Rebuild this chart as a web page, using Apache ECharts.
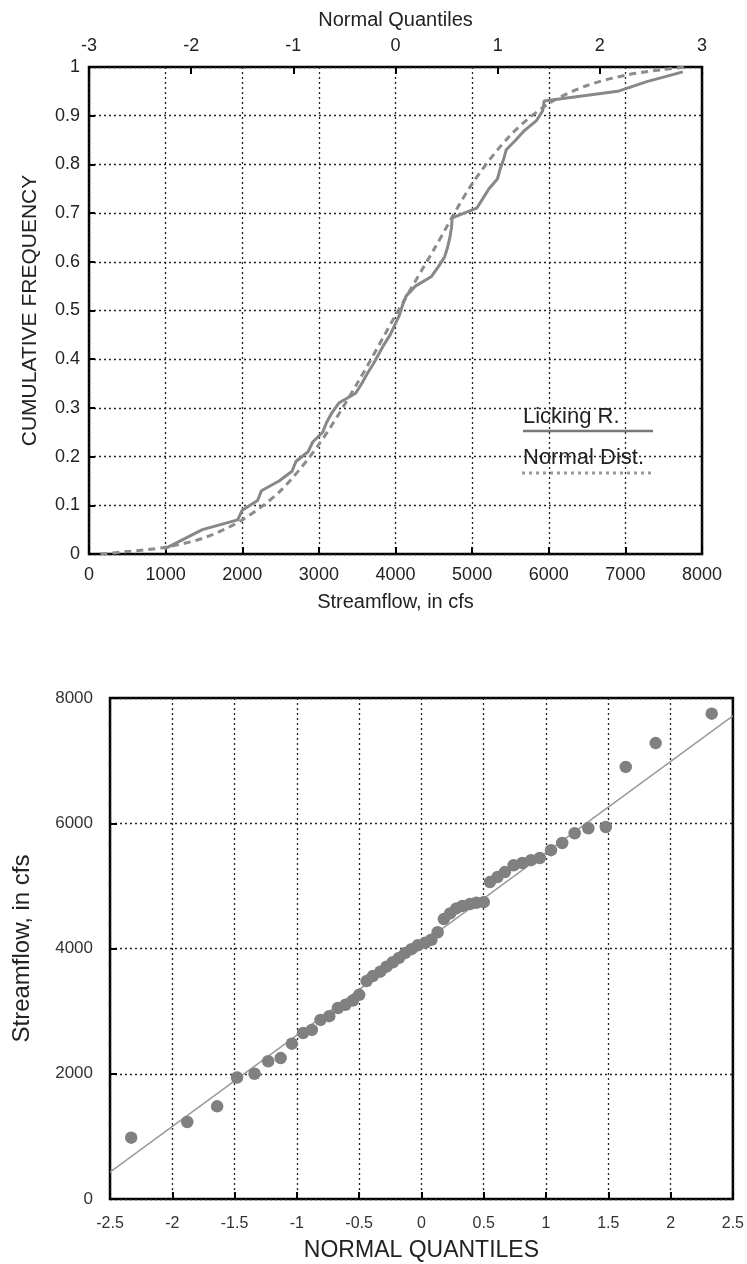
<!DOCTYPE html>
<html>
<head>
<meta charset="utf-8">
<script src="https://cdn.jsdelivr.net/npm/echarts@6/dist/echarts.min.js"></script>
<style>
html,body{margin:0;padding:0;background:#fff;}
#chart{width:747px;height:1264px;}
</style>
</head>
<body>
<div id="chart"></div>
<script>
// ---- Data ----
// Sorted annual streamflows, Licking R. (cfs)
const flowSorted = [980,1230,1480,1940,2000,2200,2250,2480,2650,2700,
  2860,2920,3050,3100,3170,3260,3480,3560,3630,3710,
  3780,3850,3930,3990,4050,4090,4140,4260,4470,4560,
  4640,4680,4710,4730,4740,5060,5140,5220,5330,5365,
  5410,5445,5570,5685,5840,5920,5940,6900,7280,7750];
// Cumulative frequency of each sorted value
const cumFreq = [0.01,0.03,0.05,0.07,0.09,0.11,0.13,0.15,0.17,0.19,
  0.21,0.23,0.25,0.27,0.29,0.31,0.33,0.35,0.37,0.39,
  0.41,0.43,0.45,0.47,0.49,0.51,0.53,0.55,0.57,0.59,
  0.61,0.63,0.65,0.67,0.69,0.71,0.73,0.75,0.77,0.79,
  0.81,0.83,0.85,0.87,0.89,0.91,0.93,0.95,0.97,0.99];
// Normal quantile of each sorted value
const normalQuantiles = [-2.33,-1.88,-1.64,-1.48,-1.34,-1.23,-1.13,-1.04,-0.95,-0.88,
  -0.81,-0.74,-0.67,-0.61,-0.55,-0.50,-0.44,-0.39,-0.33,-0.28,
  -0.23,-0.18,-0.13,-0.08,-0.03,0.03,0.08,0.13,0.18,0.23,
  0.28,0.33,0.39,0.44,0.50,0.55,0.61,0.67,0.74,0.81,
  0.88,0.95,1.04,1.13,1.23,1.34,1.48,1.64,1.88,2.33];
// Normal distribution curve (top panel, dashed)
const normalCurveFlow = [150,500,1000,1500,2000,2500,3000,3500,4000,4500,5000,5500,6000,6500,7000,7500,7800];
const normalCurveFreq = [0.0,0.005,0.014,0.033,0.07,0.13,0.225,0.35,0.49,0.625,0.76,0.86,0.925,0.962,0.983,0.995,1.0];
// Fitted straight line (bottom panel)
const fitQuantiles = [-2.5, 2.5];
const fitFlow = [430, 7715];

// ---- Build series data ----
const lickingData = flowSorted.map((v, i) => [v, cumFreq[i]]);
const normalData = normalCurveFlow.map((v, i) => [v, normalCurveFreq[i]]);
const qqData = flowSorted.map((v, i) => [normalQuantiles[i], v]);
const fitData = fitQuantiles.map((q, i) => [q, fitFlow[i]]);

const FONT = "'Liberation Sans', Arial, Helvetica, sans-serif";
const gridLine = {show: true, lineStyle: {color: '#222', width: 1.3, type: [2, 3]}};
const plain = v => String(Math.round(v * 1000) / 1000);
const noLine = {show: false, onZero: false};

const chart = echarts.init(document.getElementById('chart'), null, {renderer: 'canvas'});
chart.setOption({
  animation: false,
  backgroundColor: '#fff',
  textStyle: {fontFamily: FONT},
  grid: [
    {left: 89, top: 67, width: 613, height: 487, show: true, borderColor: '#000', borderWidth: 2.5, backgroundColor: 'transparent'},
    {left: 110, top: 698, width: 625, height: 501, show: true, borderColor: '#000', borderWidth: 2.5, backgroundColor: 'transparent'}
  ],
  xAxis: [
    {
      gridIndex: 0, type: 'value', min: 0, max: 8000, interval: 1000, position: 'bottom',
      name: 'Streamflow, in cfs', nameLocation: 'middle', nameGap: 38,
      nameTextStyle: {fontSize: 20, color: '#222', fontFamily: FONT},
      axisLine: noLine,
      axisTick: {show: true, inside: true, length: 7, lineStyle: {color: '#000', width: 2}},
      axisLabel: {fontSize: 18, color: '#222', margin: 12, fontFamily: FONT, formatter: plain},
      splitLine: gridLine
    },
    {
      gridIndex: 0, type: 'value', min: -3, max: 3, interval: 1, position: 'top',
      name: 'Normal Quantiles', nameLocation: 'middle', nameGap: 37,
      nameTextStyle: {fontSize: 20, color: '#222', fontFamily: FONT},
      axisLine: noLine,
      axisTick: {show: true, inside: true, length: 7, lineStyle: {color: '#000', width: 2}},
      axisLabel: {fontSize: 18, color: '#222', margin: 12, fontFamily: FONT, formatter: plain},
      splitLine: {show: false}
    },
    {
      gridIndex: 1, type: 'value', min: -2.5, max: 2.5, interval: 0.5, position: 'bottom',
      name: 'NORMAL QUANTILES', nameLocation: 'middle', nameGap: 40,
      nameTextStyle: {fontSize: 23, color: '#222', fontFamily: FONT},
      axisLine: noLine,
      axisTick: {show: true, inside: true, length: 7, lineStyle: {color: '#000', width: 2}},
      axisLabel: {fontSize: 16, color: '#333', margin: 17, fontFamily: FONT, formatter: plain},
      splitLine: gridLine
    }
  ],
  yAxis: [
    {
      gridIndex: 0, type: 'value', min: 0, max: 1, interval: 0.1,
      name: 'CUMULATIVE FREQUENCY', nameLocation: 'middle', nameGap: 48, nameRotate: 90,
      nameTextStyle: {fontSize: 21, color: '#222', fontFamily: FONT},
      axisLine: noLine,
      axisTick: {show: true, inside: true, length: 6, lineStyle: {color: '#000', width: 2}},
      axisLabel: {fontSize: 18, color: '#222', margin: 9, fontFamily: FONT, formatter: plain},
      splitLine: gridLine
    },
    {
      gridIndex: 1, type: 'value', min: 0, max: 8000, interval: 2000,
      name: 'Streamflow, in cfs', nameLocation: 'middle', nameGap: 76, nameRotate: 90,
      nameTextStyle: {fontSize: 24, color: '#222', fontFamily: FONT},
      axisLine: noLine,
      axisTick: {show: true, inside: true, length: 7, lineStyle: {color: '#000', width: 2}},
      axisLabel: {fontSize: 17, color: '#333', margin: 17, fontFamily: FONT, formatter: plain},
      splitLine: gridLine
    }
  ],
  series: [
    {
      name: 'Normal Dist.', type: 'line', xAxisIndex: 0, yAxisIndex: 0,
      data: normalData, smooth: 0.3, symbol: 'none',
      lineStyle: {color: '#8c8c8c', width: 3, type: [7, 5]}, z: 3
    },
    {
      name: 'Licking R.', type: 'line', xAxisIndex: 0, yAxisIndex: 0,
      data: lickingData, symbol: 'none',
      lineStyle: {color: '#888', width: 3}, z: 4
    },
    {
      name: 'Fit', type: 'line', xAxisIndex: 2, yAxisIndex: 1,
      data: fitData, symbol: 'none',
      lineStyle: {color: '#9a9a9a', width: 1.5}, z: 3
    },
    {
      name: 'Observed', type: 'scatter', xAxisIndex: 2, yAxisIndex: 1,
      data: qqData, symbol: 'circle', symbolSize: 12.5,
      itemStyle: {color: '#808080', opacity: 1}, z: 4
    }
  ],
  graphic: [
    {type: 'text', left: 523, top: 406, style: {text: 'Licking R.', font: "22px " + FONT, fill: '#222'}},
    {type: 'line', shape: {x1: 523, y1: 431, x2: 653, y2: 431}, style: {stroke: '#777', lineWidth: 2.5}},
    {type: 'text', left: 523, top: 447, style: {text: 'Normal Dist.', font: "22px " + FONT, fill: '#222'}},
    {type: 'line', shape: {x1: 522, y1: 473, x2: 652, y2: 473}, style: {stroke: '#999', lineWidth: 3, lineDash: [3, 4]}}
  ]
});
</script>
</body>
</html>
